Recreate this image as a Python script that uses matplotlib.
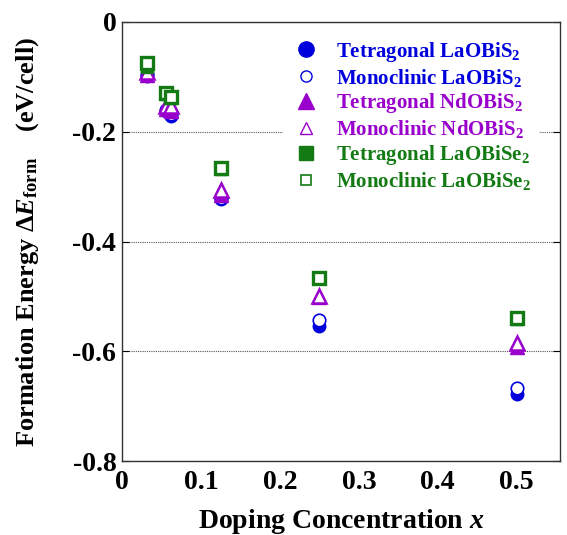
import numpy as np
import matplotlib
matplotlib.use('Agg')
import matplotlib.pyplot as plt
from matplotlib.lines import Line2D

plt.rcParams['font.family'] = ['Liberation Serif', 'DejaVu Serif']
plt.rcParams['font.weight'] = 'bold'
plt.rcParams['axes.labelweight'] = 'bold'
plt.rcParams['mathtext.fontset'] = 'custom'
plt.rcParams['mathtext.rm'] = 'Liberation Serif:bold'
plt.rcParams['mathtext.bf'] = 'Liberation Serif:bold'
plt.rcParams['mathtext.it'] = 'Liberation Serif:bold:italic'

# doping concentration x
x = [1/32, 1/18, 1/16, 1/8, 1/4, 1/2]

# formation energy (eV/cell)
tet_LaOBiS2 = [-0.098, -0.163, -0.171, -0.323, -0.554, -0.678]
mono_LaOBiS2 = [-0.095, -0.160, -0.168, -0.320, -0.543, -0.667]
tet_NdOBiS2 = [-0.097, -0.158, -0.162, -0.315, -0.501, -0.592]
mono_NdOBiS2 = [-0.091, -0.154, -0.153, -0.306, -0.500, -0.585]
tet_LaOBiSe2 = [-0.082, -0.132, -0.138, -0.268, -0.467, -0.541]
mono_LaOBiSe2 = [-0.075, -0.130, -0.136, -0.266, -0.466, -0.540]

labels = ['Tetragonal LaOBiS$_2$', 'Monoclinic LaOBiS$_2$',
          'Tetragonal NdOBiS$_2$', 'Monoclinic NdOBiS$_2$',
          'Tetragonal LaOBiSe$_2$', 'Monoclinic LaOBiSe$_2$']

blue = '#0000dd'
purple = '#9900cc'
green = '#147a14'

fig = plt.figure(figsize=(5.67, 5.35), dpi=100)
ax = fig.add_axes([0.215, 0.138, 0.773, 0.821])

# (values, marker, color, filled, size, edge width)
series = [
    (tet_LaOBiS2, 'o', blue, True, 9, 1.0),
    (mono_LaOBiS2, 'o', blue, False, 9, 1.2),
    (tet_NdOBiS2, '^', purple, True, 9.5, 1.0),
    (mono_NdOBiS2, '^', purple, False, 9.5, 1.8),
    (tet_LaOBiSe2, 's', green, True, 9, 1.0),
    (mono_LaOBiSe2, 's', green, False, 9, 2.4),
]
for i, (vals, m, c, filled, ms, mew) in enumerate(series):
    ax.plot(x, vals, linestyle='none', marker=m, markersize=ms,
            markerfacecolor=c if filled else 'white', markeredgecolor=c,
            markeredgewidth=mew, zorder=3 + i)

ax.set_xlim(0, 0.555)
ax.set_ylim(-0.8, 0)
ax.set_xticks([0, 0.1, 0.2, 0.3, 0.4, 0.5])
ax.set_xticklabels(['0', '0.1', '0.2', '0.3', '0.4', '0.5'])
ax.set_yticks([-0.8, -0.6, -0.4, -0.2, 0])
ax.set_yticklabels(['-0.8', '-0.6', '-0.4', '-0.2', '0'])
ax.tick_params(axis='y', direction='in', length=5, right=True, labelsize=20, pad=4)
ax.tick_params(axis='x', length=0, labelsize=20, pad=6)
ax.yaxis.grid(True, linestyle=(0, (1, 1)), color='#555555', linewidth=0.8)
ax.set_axisbelow(True)
for s in ax.spines.values():
    s.set_color('#333333')
    s.set_linewidth(1.0)

ax.set_xlabel('Doping Concentration $\\mathit{x}$', fontsize=20, labelpad=9)
ax.set_ylabel('Formation Energy $\\Delta\\mathit{E}_{\\mathbf{form}}$    (eV/cell)',
              fontsize=19)
ax.yaxis.set_label_coords(-0.185, 0.50)

# legend with its own marker sizes
cols = [blue, blue, purple, purple, green, green]
handles = [
    Line2D([], [], ls='none', marker='o', ms=11, mfc=blue, mec=blue),
    Line2D([], [], ls='none', marker='o', ms=8, mfc='white', mec=blue, mew=1.0),
    Line2D([], [], ls='none', marker='^', ms=11, mfc=purple, mec=purple),
    Line2D([], [], ls='none', marker='^', ms=8, mfc='white', mec=purple, mew=1.0),
    Line2D([], [], ls='none', marker='s', ms=10, mfc=green, mec=green),
    Line2D([], [], ls='none', marker='s', ms=7, mfc='white', mec=green, mew=1.2),
]
leg = ax.legend(handles, labels, loc='upper right', bbox_to_anchor=(0.975, 1.0),
                fontsize=15, frameon=True, facecolor='white', edgecolor='none',
                framealpha=1, handletextpad=0.7, labelspacing=0.14,
                borderpad=0.35, handlelength=1.5)
for t, c in zip(leg.get_texts(), cols):
    t.set_color(c)
leg.set_zorder(2)

fig.savefig('out.png', dpi=100)
